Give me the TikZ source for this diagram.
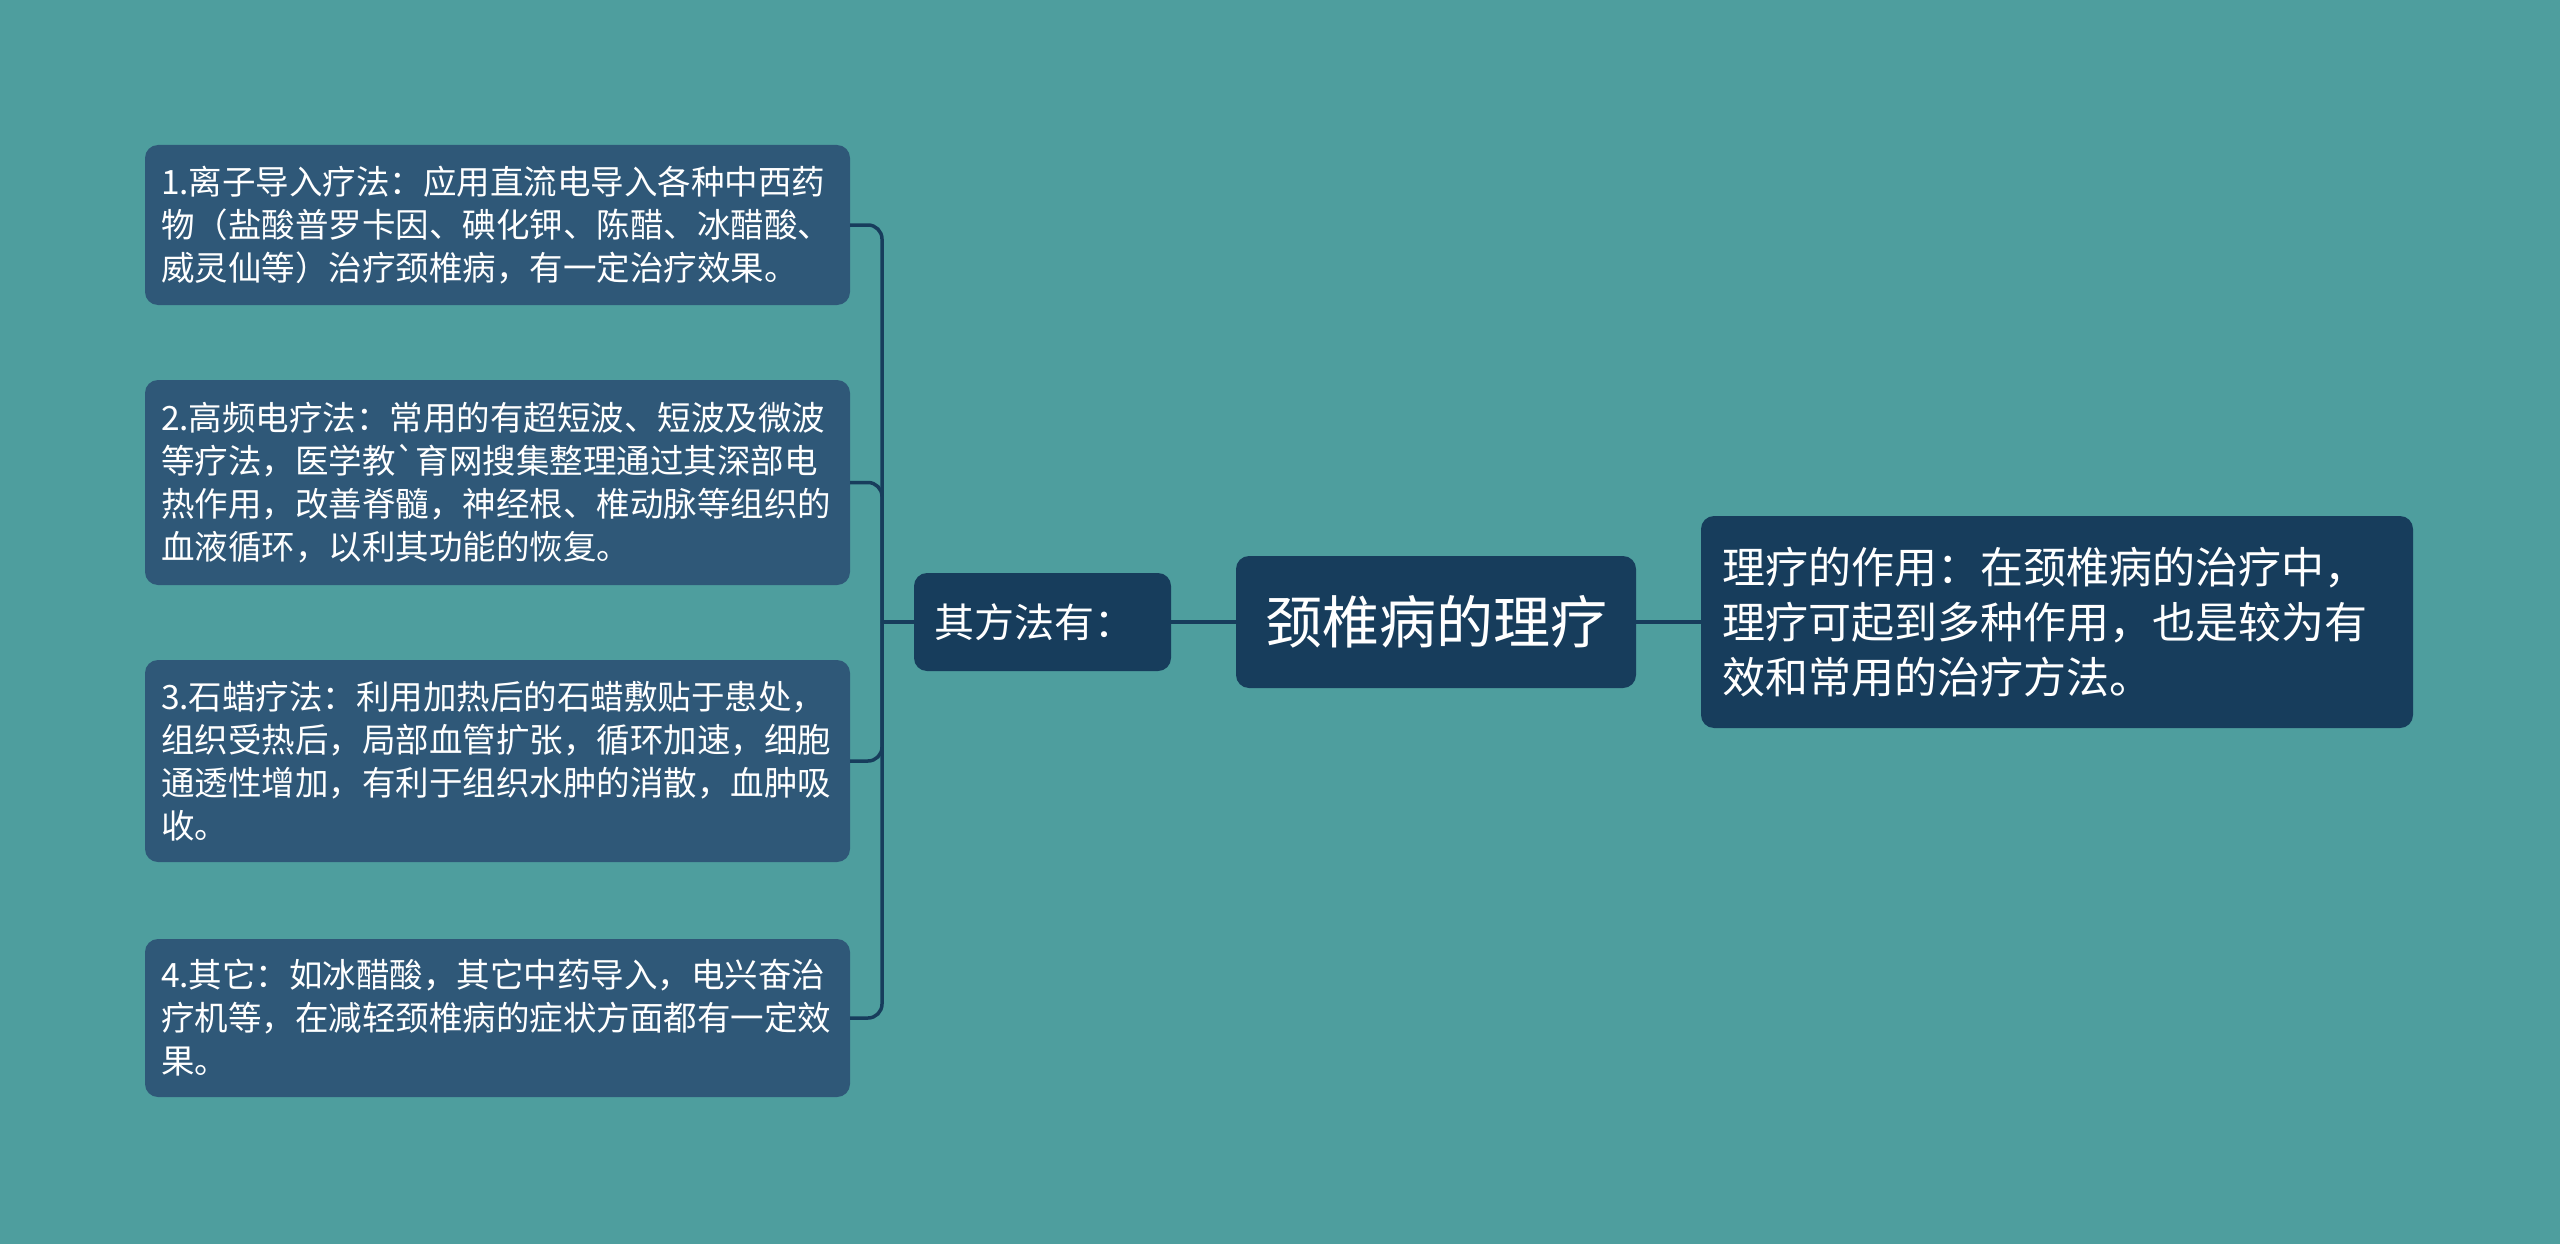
\documentclass[tikz,border=0pt]{standalone}
\usepackage{fontspec}
\setmainfont{Noto Sans CJK SC}
\definecolor{bgc}{RGB}{78,158,158}
\definecolor{leafc}{RGB}{47,88,120}
\definecolor{darkc}{RGB}{23,61,92}
\begin{document}
\begin{tikzpicture}[x=1pt,y=-1pt,
  leaf/.style={fill=leafc, rounded corners=13pt, text=white,
    font=\fontsize{33.5}{43}\selectfont, align=left, text width=673pt,
    inner xsep=16pt, inner ysep=0pt},
  darkbox/.style={fill=darkc, rounded corners=13pt, text=white, inner sep=0pt},
  conn/.style={draw=darkc, line width=3.5pt}]
\fill[bgc] (0,0) rectangle (2560,1244);
\useasboundingbox (0,0) rectangle (2560,1244);

\node[leaf, minimum height=160pt] (b1) at (497.5,225)
  {1.离子导入疗法：应用直流电导入各种中西药\\物（盐酸普罗卡因、碘化钾、陈醋、冰醋酸、\\威灵仙等）治疗颈椎病，有一定治疗效果。};
\node[leaf, minimum height=205pt] (b2) at (497.5,482.5)
  {2.高频电疗法：常用的有超短波、短波及微波\\等疗法，医学教\textasciigrave 育网搜集整理通过其深部电\\热作用，改善脊髓，神经根、椎动脉等组织的\\血液循环，以利其功能的恢复。};
\node[leaf, minimum height=202pt] (b3) at (497.5,761)
  {3.石蜡疗法：利用加热后的石蜡敷贴于患处，\\组织受热后，局部血管扩张，循环加速，细胞\\通透性增加，有利于组织水肿的消散，血肿吸\\收。};
\node[leaf, minimum height=158pt] (b4) at (497.5,1018)
  {4.其它：如冰醋酸，其它中药导入，电兴奋治\\疗机等，在减轻颈椎病的症状方面都有一定效\\果。};

\node[darkbox, text width=217pt, inner xsep=20pt, align=left,
  minimum height=98pt,
  font=\fontsize{40}{48}\selectfont] (fang) at (1042.5,622) {其方法有：};
\node[darkbox, minimum width=400pt, minimum height=132pt,
  font=\fontsize{57}{66}\selectfont] (root) at (1436,622) {颈椎病的理疗};
\node[darkbox, text width=670pt, inner xsep=21pt, align=left, minimum height=212pt,
  font=\fontsize{43}{55}\selectfont] (right) at (2057,622)
  {理疗的作用：在颈椎病的治疗中，\\理疗可起到多种作用，也是较为有\\效和常用的治疗方法。};

\coordinate (j) at (882,622);
\draw[conn] (fang.west) -- (j);
\foreach \b in {b1,b2,b3,b4}
  \draw[conn, rounded corners=14pt] (j) |- (\b.east);
\draw[conn] (fang.east) -- (root.west);
\draw[conn] (root.east) -- (right.west);
\end{tikzpicture}
\end{document}
